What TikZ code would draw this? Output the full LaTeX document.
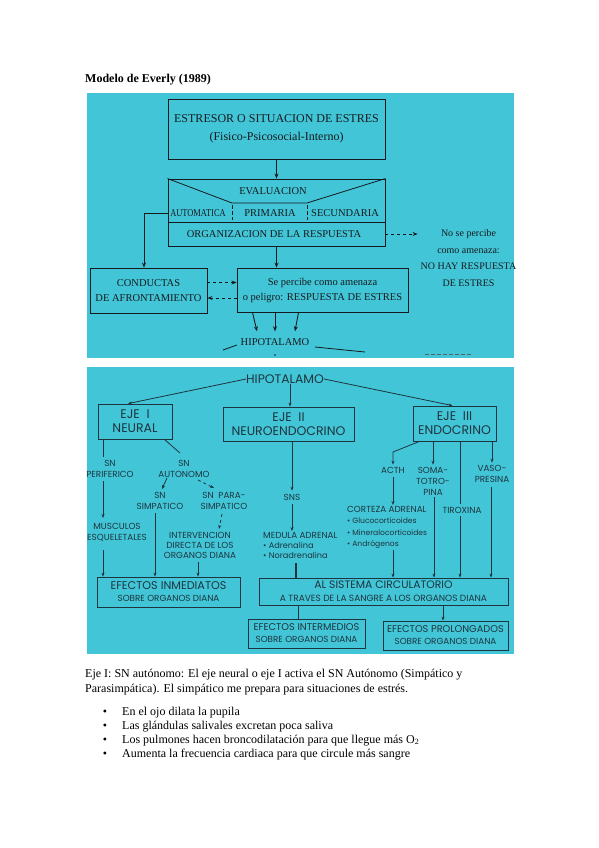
\documentclass[tikz,border=0pt]{standalone}
\usepackage{graphicx}
\usepackage{fontspec}
\setmainfont{Liberation Serif}
\newfontfamily\futura{Poppins}
\usetikzlibrary{arrows.meta}
\definecolor{panel}{RGB}{66,198,215}
\definecolor{ink}{RGB}{22,26,30}
\definecolor{inkb}{RGB}{30,52,62}
\newcommand\ftop{\fontsize{10.5}{15}\selectfont}
\newcommand\fbig{\futura\fontsize{12.5}{14}\selectfont}
\newcommand\fsml{\futura\fontsize{8.8}{11}\selectfont}
\newcommand\fsubl{\fontsize{8.8}{10}\selectfont}
\newcommand\fbulc{\fontsize{7.6}{11.5}\selectfont\textbullet\ }
\newcommand\fbulm{\fontsize{8.2}{10}\selectfont\textbullet\ }
\begin{document}
\begin{tikzpicture}[x=1pt,y=-1pt,
  tbox/.style={draw=ink,line width=0.9pt,inner sep=0,align=center,text=ink,font=\ftop},
  ttxt/.style={inner sep=0,align=center,text=ink,font=\ftop},
  sbox/.style={draw=inkb,line width=0.8pt,inner sep=0,align=center,text=inkb},
  stxt/.style={inner sep=0,align=center,text=inkb,font=\fsml},
  arr/.style={-{Stealth[length=5pt,width=4pt]},line width=0.9pt,draw=ink},
  sarr/.style={-{Stealth[length=4pt,width=3pt]},line width=0.8pt,draw=inkb},
  sline/.style={line width=0.8pt,draw=inkb},
  body/.style={inner sep=0,anchor=base west,font=\fontsize{12}{14}\selectfont}]
\useasboundingbox (0,0) rectangle (599,848);
\fill[white] (0,0) rectangle (599,848);
\node[inner sep=0,anchor=base west,font=\bfseries\fontsize{12}{14}\selectfont] (title) at (85,83) {Modelo de Everly (1989)};
% panels
\fill[panel] (87,93) rectangle (514,358);
\fill[panel] (87,367) rectangle (514,654);

% ---------- top diagram ----------
\node[tbox,minimum width=217,minimum height=60,font=\fontsize{12}{18}\selectfont] (est) at (276.5,129) {ESTRESOR O SITUACION DE ESTRES\\(Fisico-Psicosocial-Interno)};
\node[tbox,minimum width=217,minimum height=67] (ev) at (276.5,212.5) {};
\draw[ink,line width=0.8pt] (ev.north west) -- (232,203) -- (307,203) -- (ev.north east);
\draw[ink,line width=0.8pt] (ev.west |- 0,222) -- (ev.east |- 0,222);
\draw[ink,line width=0.8pt,dash pattern=on 4pt off 2pt] (232,205) -- (232,220);
\draw[ink,line width=0.8pt,dash pattern=on 4pt off 2pt] (307,205) -- (307,220);
\node[ttxt] (evt) at (273,191) {EVALUACION};
\node[ttxt] (auto) at (198,213) {\scalebox{0.8}[1]{AUTOMATICA}};
\node[ttxt] (prim) at (270,213) {PRIMARIA};
\node[ttxt] (secu) at (345,213) {SECUNDARIA};
\node[ttxt] (org) at (274,234) {ORGANIZACION DE LA RESPUESTA};
\draw[arr] (est.south) -- (ev.north);
\node[ttxt,font=\fontsize{10}{16.7}\selectfont] (nohay) at (468.5,258) {No se percibe\\como amenaza:\\NO HAY RESPUESTA\\DE ESTRES};
\draw[arr,dashed] (ev.east |- org) -- ([xshift=-3]nohay.west |- org);
\node[tbox,minimum width=117,minimum height=45] (cond) at (148.5,290.5) {CONDUCTAS\\DE AFRONTAMIENTO};
\node[tbox,minimum width=171,minimum height=44] (sep) at (322.5,290) {Se percibe como amenaza\\o peligro: RESPUESTA DE ESTRES};
\draw[arr] (ev.west |- auto) -| ([xshift=-4.5]cond.north);
\draw[arr] (ev.south) -- (sep.north -| ev.south);
\draw[arr,dashed] ([yshift=8]cond.east) -- ([yshift=8]cond.east -| sep.west);
\draw[arr,dashed] ([yshift=-8]sep.west) -- ([yshift=-8]sep.west -| cond.east);
\node[ttxt] (hipo1) at (275,342) {HIPOTALAMO};
\draw[arr] ([xshift=-70]sep.south) -- ([xshift=-18,yshift=7]hipo1.north);
\draw[arr] (sep.south -| hipo1.north) -- ([yshift=7]hipo1.north);
\draw[arr] ([xshift=-24]sep.south) -- ([xshift=20,yshift=7]hipo1.north);
\draw[ink,line width=0.8pt] ([xshift=-52,yshift=-8]hipo1.center) -- ([xshift=-38,yshift=-3]hipo1.center);
\draw[ink,line width=0.8pt] ([xshift=40,yshift=-5]hipo1.center) -- ([xshift=90,yshift=-10]hipo1.center);
\fill[ink] (275,355) circle (0.8);
\draw[ink!70,line width=0.5pt,dash pattern=on 4pt off 2pt] (425,354) -- (473,354);

% ---------- bottom diagram ----------
\node[stxt,font=\futura\fontsize{12.4}{14}\selectfont] (hip2) at (285,379) {HIPOTALAMO};
\node[sbox,minimum width=74,minimum height=35,font=\fbig] (eje1) at (135,421.5) {EJE\ \ I\\NEURAL};
\node[sbox,minimum width=131,minimum height=34,font=\fbig] (eje2) at (288.5,424) {EJE\ \ II\\NEUROENDOCRINO};
\node[sbox,minimum width=83,minimum height=35,font=\fbig] (eje3) at (454.5,423.5) {EJE\ \ III\\ENDOCRINO};
\draw[sarr] (hip2.west) -- ([xshift=-7]eje1.north);
\draw[sarr] (hip2.east) -- ([xshift=-2]eje3.north);
\draw[sarr] ([xshift=5]hip2.south) -- ([xshift=5]hip2.south |- eje2.north);

% eje I
\node[stxt] (snper) at (110,468.5) {SN\\PERIFERICO};
\draw[sline] (eje1.south -| 103,0) -- (103,457);
\node[stxt] (musc) at (117,532) {MUSCULOS\\ESQUELETALES};
\draw[sarr] (103,481) -- (103,518);
\node[stxt] (snaut) at (184,468.5) {SN\\AUTONOMO};
\draw[sline] ([xshift=-8]eje1.south east) -- (180,453);
\node[stxt] (snsim) at (160,501) {SN\\SIMPATICO};
\node[stxt] (snpar) at (224,501) {SN\ \ PARA-\\SIMPATICO};
\draw[sarr] (167,478) -- (162,489);
\draw[sarr,dashed] (198,480) -- (214,488);
\node[stxt,font=\futura\fontsize{8.8}{10}\selectfont] (interv) at (200,545) {INTERVENCION\\DIRECTA DE LOS\\ORGANOS DIANA};
\draw[sarr,dashed] (222,514) -- (219,529);
\node[sbox,minimum width=143,minimum height=30,font=\futura\fontsize{11.2}{12}\selectfont] (efinm) at (168.5,592) {EFECTOS INMEDIATOS\\{\fsubl SOBRE ORGANOS DIANA}};
\draw[sarr] (103,550) -- (efinm.north -| 103,0);
\draw[sarr] (155,513) -- (efinm.north -| 155,0);
\draw[sarr] (198,562) -- (efinm.north -| 198,0);

% eje II
\node[stxt] (sns) at (292,497) {SNS};
\draw[sarr] (eje2.south -| sns.north) -- ([yshift=3]sns.north);
\node[inner sep=0,anchor=north west,align=left,text=inkb,font=\futura\fontsize{8.8}{10}\selectfont] (med) at (263,532) {MEDULA ADRENAL\\\fbulm Adrenalina\\\fbulm Noradrenalina};
\draw[sarr] ([yshift=-4]sns.south) -- (292,531);
\node[sbox,minimum width=249,minimum height=27,font=\futura\fontsize{10.8}{13}\selectfont] (alsis) at (383.5,591.5) {AL SISTEMA CIRCULATORIO\\{\fontsize{9}{10}\selectfont A TRAVES DE LA SANGRE A LOS ORGANOS DIANA}};
\draw[inkb,line width=1.8pt] (296,563) -- (alsis.north -| 296,0);

% eje III
\node[stxt] (acth) at (393,470) {ACTH};
\draw[sarr] ([xshift=-35]eje3.south) -- (393,452) -- ([yshift=2]acth.north);
\node[stxt] (soma) at (433,481) {SOMA-\\TOTRO-\\PINA};
\draw[sarr] (eje3.south -| soma.north) -- ([yshift=2]soma.north);
\node[stxt] (tirox) at (462,510) {TIROXINA};
\draw[sline] (eje3.south -| 460,0) -- (460,504);
\node[stxt] (vaso) at (492,473.5) {VASO-\\PRESINA};
\draw[sarr] (eje3.south -| vaso.north) -- ([yshift=2]vaso.north);
\node[inner sep=0,anchor=north west,align=left,text=inkb,font=\futura\fontsize{8.8}{11.5}\selectfont] (cort) at (347,506) {CORTEZA ADRENAL\\\fbulc Glucocorticoides\\\fbulc Mineralocorticoides\\\fbulc Andrógenos};
\draw[sarr] ([yshift=-4]acth.south) -- (393,505);
\draw[sarr] (393,550) -- (alsis.north -| 393,0);
\draw[sarr] (434,497) -- (alsis.north -| 434,0);
\draw[sarr] (460,516) -- (alsis.north -| 460,0);
\draw[sarr] (491,487) -- (alsis.north -| 491,0);

\node[sbox,minimum width=117,minimum height=29,font=\futura\fontsize{9.8}{12}\selectfont] (efint) at (306.5,633.5) {EFECTOS INTERMEDIOS\\{\fsubl SOBRE ORGANOS DIANA}};
\node[sbox,minimum width=125,minimum height=29,font=\futura\fontsize{9.8}{12}\selectfont] (efpro) at (445.5,635.5) {EFECTOS PROLONGADOS\\{\fsubl SOBRE ORGANOS DIANA}};
\draw[sline] (alsis.south -| 298,0) -- (efint.north -| 298,0);
\draw[sarr] (alsis.south -| 443,0) -- (efpro.north -| 443,0);

% ---------- text below ----------
\node[body] (p1) at (85,677) {Eje I: SN autónomo: El eje neural o eje I activa el SN Autónomo (Simpático y};
\node[body] (p2) at (85,692) {Parasimpática). El simpático me prepara para situaciones de estrés.};
\node[body,anchor=base] (b1) at (105,715) {\textbullet};
\node[body] (l1) at (122,715) {En el ojo dilata la pupila};
\node[body,anchor=base] (b2) at (105,729) {\textbullet};
\node[body] (l2) at (122,729) {Las glándulas salivales excretan poca saliva};
\node[body,anchor=base] (b3) at (105,743) {\textbullet};
\node[body] (l3) at (122,743) {Los pulmones hacen broncodilatación para que llegue más O\textsubscript{2}};
\node[body,anchor=base] (b4) at (105,757) {\textbullet};
\node[body] (l4) at (122,757) {Aumenta la frecuencia cardiaca para que circule más sangre};
\end{tikzpicture}
\end{document}
